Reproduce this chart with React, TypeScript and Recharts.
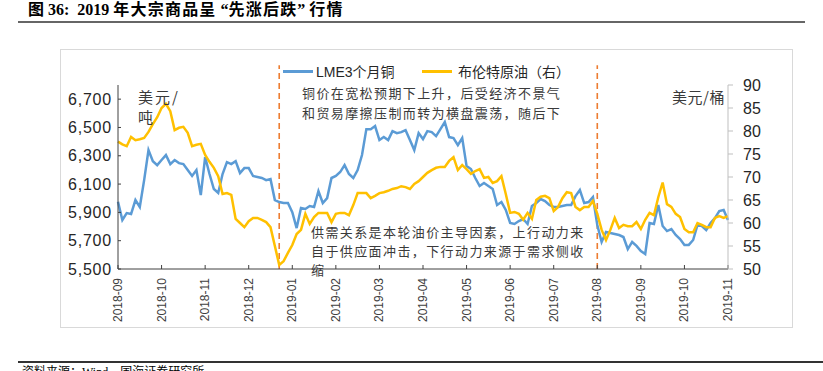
import React from "react";
import { LineChart, Line, XAxis, YAxis, ReferenceLine } from "recharts";

// sampling grid: 10 points per month, ending on 2019-11-01
const MONTHS = [
  "2018-09", "2018-10", "2018-11", "2018-12", "2019-01", "2019-02", "2019-03", "2019-04",
  "2019-05", "2019-06", "2019-07", "2019-08", "2019-09", "2019-10", "2019-11",
];
const DAYS = ["01", "04", "07", "10", "13", "16", "19", "22", "25", "28"];

// LME 3-month copper, USD/t (left axis)
const COPPER = [
  5975, 5846, 5895, 5888, 5987, 5938, 6128, 6340, 6262, 6234,
  6270, 6305, 6241, 6270, 6248, 6241, 6199, 6157, 6199, 6022,
  6291, 6171, 6065, 6037, 6171, 6255, 6241, 6262, 6178, 6213,
  6213, 6157, 6150, 6143, 6128, 6135, 5987, 5973, 5966, 5966,
  5902, 5789, 5931, 5924, 5945, 5938, 6051, 5966, 6001, 6143,
  6157, 6185, 6234, 6171, 6143, 6199, 6305, 6488, 6488, 6510,
  6411, 6432, 6411, 6474, 6460, 6467, 6481, 6411, 6340, 6460,
  6418, 6474, 6467, 6439, 6488, 6538, 6432, 6425, 6375, 6425,
  6227, 6206, 6143, 6086, 6107, 6086, 6065, 5952, 5973, 5917,
  5825, 5818, 5839, 5853, 5818, 5945, 5966, 5994, 5980, 5952,
  5938, 5938, 5945, 5952, 5952, 6015, 6058, 5966, 5973, 6008,
  5811, 5691, 5761, 5754, 5747, 5740, 5726, 5641, 5691, 5663,
  5627, 5606, 5825, 5818, 5952, 5804, 5768, 5782, 5740, 5712,
  5670, 5670, 5705, 5811, 5804, 5775, 5825, 5860, 5909, 5917,
  5846,
];

// Brent crude, USD/bbl (right axis)
const BRENT = [
  77.7, 77.1, 76.7, 78.7, 78.0, 78.2, 78.5, 79.8, 81.5, 83.0,
  85.0, 85.9, 84.3, 80.2, 80.7, 80.9, 79.6, 76.7, 77.0, 77.2,
  74.8, 73.3, 72.0, 70.2, 66.3, 66.5, 66.1, 60.9, 60.0, 59.1,
  60.4, 61.1, 61.1, 60.7, 60.2, 59.1, 55.0, 50.9, 51.7, 53.5,
  55.2, 57.6, 58.5, 62.0, 59.8, 61.3, 62.2, 62.2, 62.2, 60.2,
  62.0, 62.2, 62.2, 61.7, 63.9, 66.5, 66.5, 66.5, 65.4, 65.9,
  66.5, 66.7, 67.0, 67.4, 67.6, 68.0, 67.8, 67.4, 68.5, 69.1,
  70.0, 70.9, 71.5, 72.0, 72.2, 72.2, 73.5, 74.3, 71.5, 72.6,
  71.7, 70.7, 71.3, 71.7, 69.8, 70.0, 68.7, 69.1, 70.2, 66.3,
  62.2, 62.4, 62.0, 60.7, 62.2, 60.9, 65.0, 65.7, 65.9, 65.4,
  62.6, 63.5, 65.4, 66.7, 66.5, 63.5, 62.8, 63.5, 63.5, 64.8,
  62.0, 58.5, 56.3, 58.5, 61.1, 58.9, 59.6, 59.3, 59.3, 60.2,
  58.7, 60.7, 62.2, 61.7, 65.6, 68.8, 64.1, 63.5, 62.0, 61.3,
  58.7, 58.0, 58.0, 60.0, 59.6, 59.1, 59.1, 61.1, 61.5, 61.1,
  61.5,
];

const LEFT_TICKS = [5500, 5700, 5900, 6100, 6300, 6500, 6700];
const RIGHT_TICKS = [50, 55, 60, 65, 70, 75, 80, 85, 90];
const EVENT_DATES = ["2018-12-22", "2019-08-01"];

const DATES = MONTHS.flatMap((m) => DAYS.map((d) => `${m}-${d}`)).slice(0, COPPER.length);
const MONTH_TICKS = MONTHS.map((m) => `${m}-01`);
const rows = DATES.map((date, i) => ({ date, copper: COPPER[i], brent: BRENT[i] }));

const SANS = '"Liberation Sans", Arial, sans-serif';
const CJK = '"Noto Sans CJK SC", "Liberation Sans", sans-serif';
const SERIF = '"Liberation Serif", "Noto Sans CJK SC", serif';

const DateTick = ({ x, y, payload }: any) => (
  <text
    x={x}
    y={y}
    transform={`rotate(-90 ${x} ${y})`}
    textAnchor="end"
    dominantBaseline="central"
    fontSize={12}
    fontFamily={SANS}
    fill="#404040"
  >
    {String(payload.value).slice(0, 7)}
  </text>
);

const note: React.CSSProperties = {
  position: "absolute",
  fontFamily: CJK,
  fontSize: 13,
  letterSpacing: 1.4,
  color: "#3a3a3a",
  lineHeight: "20px",
  whiteSpace: "nowrap",
};

export default function App() {
  return (
    <div
      style={{
        position: "absolute",
        left: 0,
        top: 0,
        width: 823,
        height: 371,
        background: "#fff",
        overflow: "hidden",
      }}
    >
      <div
        style={{
          position: "absolute",
          left: 28,
          top: 0,
          fontFamily: SERIF,
          fontWeight: "bold",
          fontSize: 16,
          lineHeight: "20px",
          color: "#000",
          whiteSpace: "nowrap",
        }}
      >
        图 36:&nbsp; 2019 <span style={{ letterSpacing: 1.2 }}>年大宗商品呈</span>
        &nbsp;“<span style={{ letterSpacing: 1.2 }}>先涨后跌</span>”&nbsp;
        <span style={{ letterSpacing: 1.2 }}>行情</span>
      </div>
      <div style={{ position: "absolute", left: 18, top: 21, width: 787, height: 2, background: "#666" }} />
      <div
        style={{
          position: "absolute",
          left: 60,
          top: 49,
          width: 731,
          height: 277,
          border: "1px solid #d9d9d9",
        }}
      />

      <div style={{ position: "absolute", left: 0, top: 0 }}>
        <LineChart width={823} height={371} data={rows} margin={{ top: 85, right: 0, bottom: 52, left: 0 }}>
          <XAxis
            dataKey="date"
            type="category"
            ticks={MONTH_TICKS}
            interval={0}
            height={50}
            tickSize={-4}
            tickMargin={13}
            axisLine={{ stroke: "#404040" }}
            tickLine={{ stroke: "#404040" }}
            tick={<DateTick />}
          />
          <YAxis
            yAxisId="left"
            orientation="left"
            width={118}
            domain={[5500, 6800]}
            ticks={LEFT_TICKS}
            interval={0}
            tickSize={-3}
            tickMargin={9}
            tickFormatter={(v: number) => v.toLocaleString("en-US")}
            axisLine={{ stroke: "#404040" }}
            tickLine={{ stroke: "#404040" }}
            tick={{ fontSize: 16, fontFamily: SANS, fill: "#262626", letterSpacing: 0.8 }}
          />
          <YAxis
            yAxisId="right"
            orientation="right"
            width={95}
            domain={[50, 90]}
            ticks={RIGHT_TICKS}
            interval={0}
            tickSize={5}
            tickMargin={10}
            axisLine={{ stroke: "#bfbfbf" }}
            tickLine={{ stroke: "#bfbfbf" }}
            tick={{ fontSize: 16, fontFamily: SANS, fill: "#262626", textAnchor: "start" }}
          />
          {EVENT_DATES.map((d) => (
            <ReferenceLine
              key={d}
              yAxisId="left"
              ifOverflow="visible"
              segment={[
                { x: d, y: 5500 },
                { x: d, y: 6940 },
              ]}
              stroke="#ED7D31"
              strokeWidth={1.6}
              strokeDasharray="6 4"
            />
          ))}
          <Line
            yAxisId="left"
            type="linear"
            dataKey="copper"
            stroke="#5B9BD5"
            strokeWidth={2.5}
            dot={false}
            isAnimationActive={false}
          />
          <Line
            yAxisId="right"
            type="linear"
            dataKey="brent"
            stroke="#FFC000"
            strokeWidth={2.5}
            dot={false}
            isAnimationActive={false}
          />
        </LineChart>
      </div>

      {/* legend */}
      <div style={{ position: "absolute", left: 283, top: 70, width: 30, height: 3, background: "#5B9BD5" }} />
      <div style={{ ...note, left: 316, top: 61, fontSize: 14, letterSpacing: 0, color: "#262626" }}>
        <span style={{ fontFamily: SANS }}>LME3</span>个月铜
      </div>
      <div style={{ position: "absolute", left: 422, top: 70, width: 30, height: 3, background: "#FFC000" }} />
      <div style={{ ...note, left: 458, top: 61, fontSize: 14, letterSpacing: 0, color: "#262626" }}>
        布伦特原油（右）
      </div>

      {/* annotations */}
      <div style={{ ...note, left: 138, top: 87, fontSize: 15, letterSpacing: 2 }}>美元/</div>
      <div style={{ ...note, left: 138, top: 107, fontSize: 15 }}>吨</div>
      <div style={{ ...note, left: 672, top: 87, fontSize: 15, letterSpacing: 0.5 }}>美元/桶</div>
      <div style={{ ...note, left: 302, top: 83 }}>
        铜价在宽松预期下上升，后受经济不景气
        <br />
        和贸易摩擦压制而转为横盘震荡，随后下
      </div>
      <div style={{ ...note, left: 311, top: 222, lineHeight: "19px" }}>
        供需关系是本轮油价主导因素，上行动力来
        <br />
        自于供应面冲击，下行动力来源于需求侧收
        <br />缩
      </div>

      {/* source, clipped by the bottom edge as in the original */}
      <div style={{ position: "absolute", left: 18, top: 361, width: 805, height: 1.5, background: "#333" }} />
      <div
        style={{
          position: "absolute",
          left: 22,
          top: 362,
          fontFamily: SERIF,
          fontSize: 12,
          color: "#000",
          whiteSpace: "nowrap",
        }}
      >
        资料来源：Wind，国海证券研究所
      </div>
    </div>
  );
}
